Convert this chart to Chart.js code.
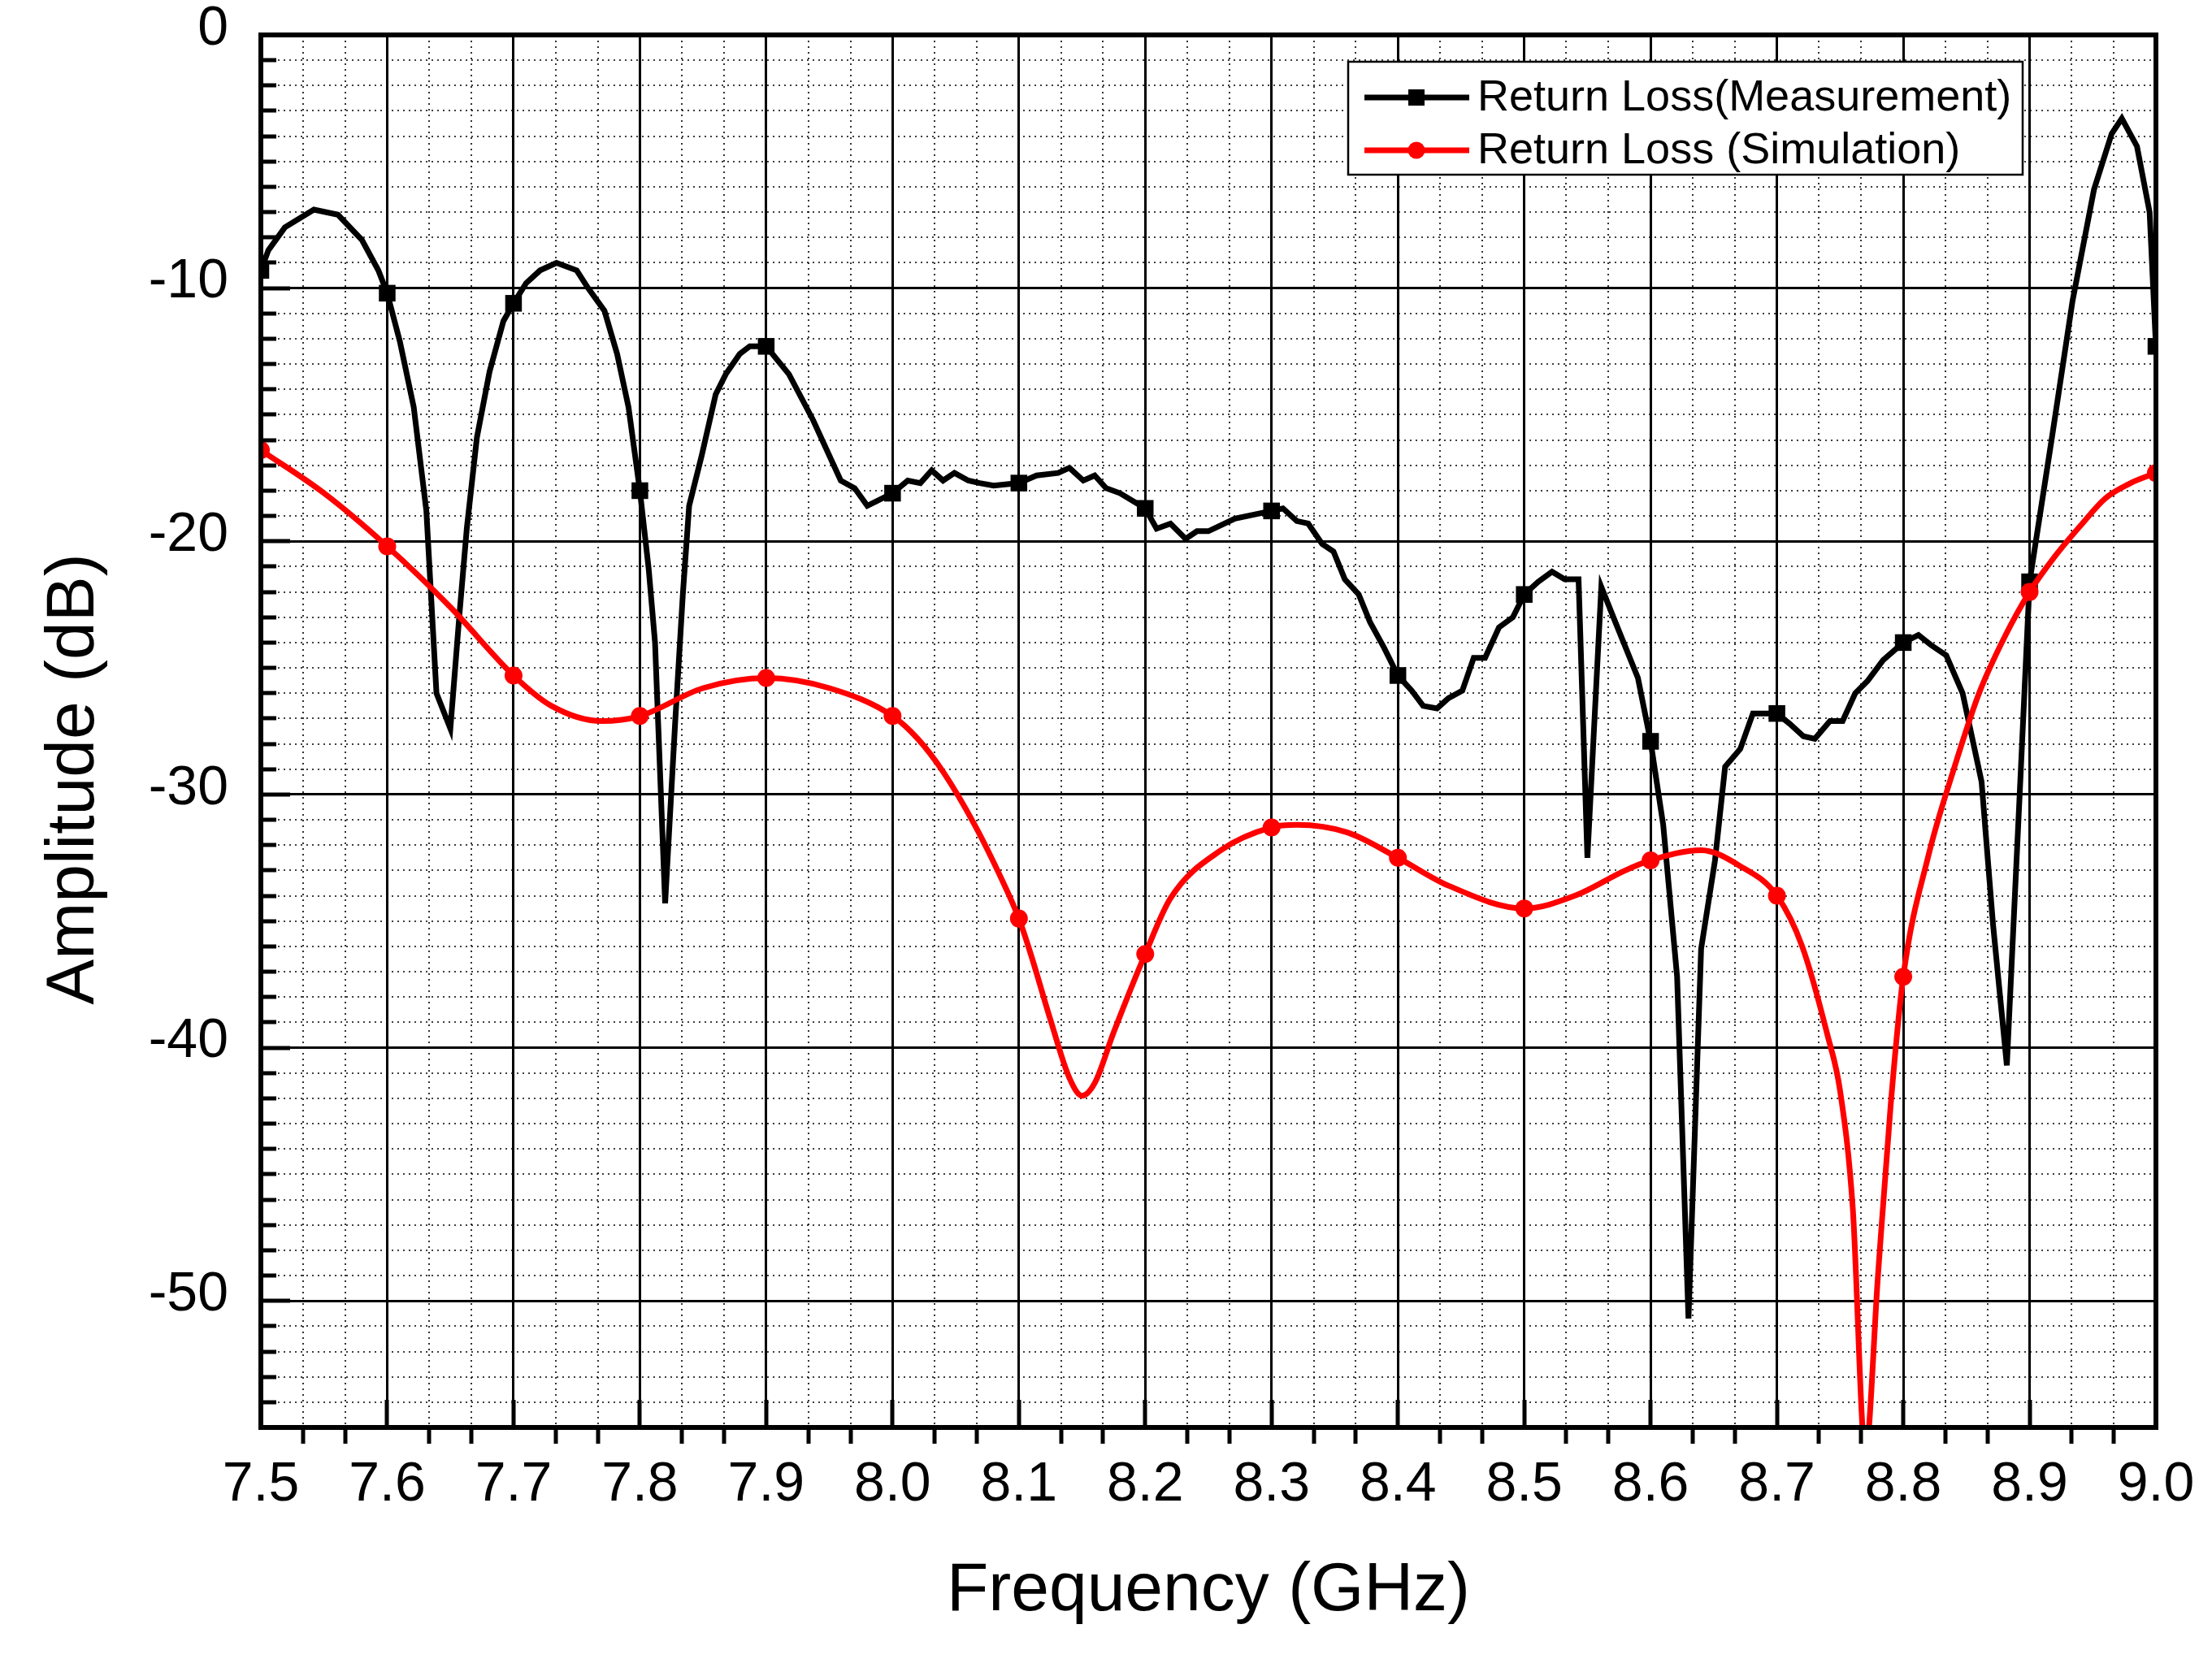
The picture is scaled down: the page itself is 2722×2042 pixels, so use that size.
<!DOCTYPE html>
<html>
<head>
<meta charset="utf-8">
<script src="https://cdn.jsdelivr.net/npm/chart.js@4.4.1/dist/chart.umd.min.js"></script>
<style>
  html, body { margin: 0; padding: 0; background: #fff; }
</style>
</head>
<body>
<canvas id="myChart" width="2722" height="2042"></canvas>
<script>
// measured return loss (black, squares)
const measFreq = [
    7.500, 7.506, 7.519, 7.542, 7.561, 7.580, 7.593, 7.600, 7.610, 7.621,
    7.631, 7.639, 7.650, 7.657, 7.663, 7.671, 7.681, 7.692, 7.700, 7.710,
    7.721, 7.734, 7.750, 7.759, 7.772, 7.782, 7.791, 7.800, 7.807, 7.812,
    7.820, 7.828, 7.834, 7.839, 7.849, 7.860, 7.868, 7.879, 7.887, 7.900,
    7.918, 7.937, 7.959, 7.970, 7.980, 8.000, 8.012, 8.022, 8.031, 8.040,
    8.049, 8.060, 8.069, 8.080, 8.100, 8.114, 8.131, 8.140, 8.151, 8.160,
    8.169, 8.180, 8.200, 8.209, 8.220, 8.232, 8.241, 8.250, 8.271, 8.300,
    8.309, 8.320, 8.329, 8.340, 8.349, 8.358, 8.369, 8.378, 8.389, 8.400,
    8.411, 8.420, 8.431, 8.440, 8.451, 8.460, 8.469, 8.480, 8.491, 8.500,
    8.511, 8.522, 8.532, 8.543, 8.550, 8.561, 8.573, 8.590, 8.600, 8.610,
    8.621, 8.630, 8.640, 8.651, 8.659, 8.671, 8.681, 8.700, 8.710, 8.721,
    8.730, 8.742, 8.752, 8.762, 8.772, 8.784, 8.800, 8.812, 8.822, 8.834,
    8.847, 8.862, 8.871, 8.882, 8.893, 8.900, 8.918, 8.934, 8.951, 8.965,
    8.973, 8.985, 8.995, 9.000
];
const measLoss = [
    -9.3, -8.5, -7.6, -6.9, -7.1, -8.1, -9.3, -10.2, -12.1, -14.7,
    -18.8, -26.0, -27.4, -23.0, -19.5, -15.9, -13.3, -11.3, -10.6, -9.8,
    -9.3, -9.0, -9.3, -10.0, -10.9, -12.6, -14.7, -18.0, -21.1, -24.0,
    -34.3, -27.1, -22.1, -18.6, -16.6, -14.2, -13.4, -12.6, -12.3, -12.3,
    -13.4, -15.2, -17.6, -17.9, -18.6, -18.1, -17.6, -17.7, -17.2, -17.6,
    -17.3, -17.6, -17.7, -17.8, -17.7, -17.4, -17.3, -17.1, -17.6, -17.4,
    -17.9, -18.1, -18.7, -19.5, -19.3, -19.9, -19.6, -19.6, -19.1, -18.8,
    -18.7, -19.2, -19.3, -20.1, -20.4, -21.5, -22.1, -23.2, -24.2, -25.3,
    -25.9, -26.5, -26.6, -26.2, -25.9, -24.6, -24.6, -23.4, -23.0, -22.1,
    -21.6, -21.2, -21.5, -21.5, -32.5, -21.8, -23.3, -25.4, -27.9, -31.2,
    -37.2, -50.7, -36.1, -32.6, -28.9, -28.2, -26.8, -26.8, -27.2, -27.7,
    -27.8, -27.1, -27.1, -26.0, -25.5, -24.7, -24.0, -23.7, -24.1, -24.5,
    -26.0, -29.5, -35.1, -40.7, -29.1, -21.6, -15.8, -10.5, -6.1, -3.9,
    -3.3, -4.4, -7.0, -12.3
];

// simulated return loss (red, circles)
const simFreq = [
    7.50, 7.55, 7.60, 7.65, 7.70, 7.73, 7.77, 7.80, 7.85, 7.90,
    7.95, 8.00, 8.02, 8.04, 8.065, 8.085, 8.10, 8.11, 8.125, 8.14,
    8.15, 8.16, 8.175, 8.20, 8.22, 8.26, 8.30, 8.32, 8.36, 8.40,
    8.44, 8.50, 8.54, 8.58, 8.60, 8.64, 8.67, 8.70, 8.72, 8.74,
    8.75, 8.76, 8.77, 8.78, 8.79, 8.80, 8.82, 8.84, 8.86, 8.88,
    8.90, 8.92, 8.94, 8.96, 8.98, 9.00
];
const simLoss = [
    -16.4, -18.1, -20.2, -22.6, -25.3, -26.5, -27.1, -26.9, -25.8, -25.4,
    -25.8, -26.9, -27.8, -29.1, -31.2, -33.2, -34.9, -36.4, -38.9, -41.2,
    -41.9, -41.4, -39.4, -36.3, -34.1, -32.2, -31.3, -31.2, -31.5, -32.5,
    -33.6, -34.5, -34.0, -33.0, -32.6, -32.2, -32.8, -34.0, -36.0, -39.5,
    -41.7, -46.3, -56.0, -49.0, -42.3, -37.2, -32.4, -29.0, -26.0, -23.8,
    -22.0, -20.6, -19.4, -18.3, -17.7, -17.3
];

const freqTicks = [7.5, 7.6, 7.7, 7.8, 7.9, 8.0, 8.1, 8.2, 8.3, 8.4, 8.5, 8.6, 8.7, 8.8, 8.9, 9.0];
const ampTicks = [0, -10, -20, -30, -40, -50];
const ampMin = -55;
const ampMax = 0;

const seriesNames = ['Return Loss(Measurement)', 'Return Loss (Simulation)'];
const seriesColors = ['#000000', '#ff0000'];

const FONT = "'Liberation Sans', Arial, sans-serif";
Chart.defaults.font.family = FONT;
Chart.defaults.color = '#000';

const isTenth = v => Math.abs(v * 10 - Math.round(v * 10)) < 1e-6;

const toPoints = (xs, ys) => xs.map((f, i) => ({x: f, y: ys[i]}));

// minor grid, tick marks, frame, legend and y title
const framePlugin = {
    id: 'framePlugin',
    beforeDatasetsDraw(chart) {
        const {ctx, chartArea: a, scales: {x, y}} = chart;
        ctx.save();
        ctx.strokeStyle = '#000';
        ctx.lineWidth = 1.6;
        ctx.setLineDash([2, 5]);
        ctx.beginPath();
        for (let i = 0; i < freqTicks.length - 1; i++) {
            for (let k = 1; k < 3; k++) {
                const px = Math.round(x.getPixelForValue(freqTicks[i] + (freqTicks[i + 1] - freqTicks[i]) * k / 3));
                ctx.moveTo(px, a.top);
                ctx.lineTo(px, a.bottom);
            }
        }
        for (let v = ampMin + 1; v < ampMax; v++) {
            if (v % 10 === 0) continue;
            const py = Math.round(y.getPixelForValue(v));
            ctx.moveTo(a.left, py);
            ctx.lineTo(a.right, py);
        }
        ctx.stroke();
        ctx.restore();
    },
    afterDatasetsDraw(chart) {
        const {ctx, chartArea: a, scales: {x, y}} = chart;
        ctx.save();
        ctx.strokeStyle = '#000';

        // y ticks, pointing in
        ctx.lineWidth = 5;
        ctx.beginPath();
        for (let v = ampMin + 1; v < ampMax; v++) {
            const py = Math.round(y.getPixelForValue(v));
            ctx.moveTo(a.left, py);
            ctx.lineTo(a.left + (v % 10 === 0 ? 36 : 19), py);
        }
        // x ticks: majors in, minors out
        for (let i = 0; i < freqTicks.length; i++) {
            const px = Math.round(x.getPixelForValue(freqTicks[i]));
            ctx.moveTo(px, a.bottom);
            ctx.lineTo(px, a.bottom - 34);
            if (i === freqTicks.length - 1) break;
            for (let k = 1; k < 3; k++) {
                const mx = Math.round(x.getPixelForValue(freqTicks[i] + (freqTicks[i + 1] - freqTicks[i]) * k / 3));
                ctx.moveTo(mx, a.bottom);
                ctx.lineTo(mx, a.bottom + 20);
            }
        }
        ctx.stroke();

        // frame
        ctx.lineWidth = 6;
        ctx.strokeRect(a.left, a.top, a.right - a.left, a.bottom - a.top);

        // legend
        const bx = a.right - 994, by = a.top + 33, bw = 830, bh = 139;
        ctx.fillStyle = '#fff';
        ctx.fillRect(bx, by, bw, bh);
        ctx.lineWidth = 2.5;
        ctx.strokeRect(bx, by, bw, bh);
        const rows = [by + 44, by + 109];
        ctx.font = '54px ' + FONT;
        ctx.textAlign = 'left';
        ctx.textBaseline = 'middle';
        for (let i = 0; i < seriesNames.length; i++) {
            const ry = rows[i];
            ctx.strokeStyle = seriesColors[i];
            ctx.fillStyle = seriesColors[i];
            ctx.lineWidth = 7;
            ctx.beginPath();
            ctx.moveTo(bx + 20, ry);
            ctx.lineTo(bx + 149, ry);
            ctx.stroke();
            if (i === 0) {
                ctx.fillRect(bx + 84 - 10, ry - 10, 20, 20);
            } else {
                ctx.beginPath();
                ctx.arc(bx + 84, ry, 10.5, 0, Math.PI * 2);
                ctx.fill();
            }
            ctx.fillStyle = '#000';
            ctx.fillText(seriesNames[i], bx + 159, ry + 1);
        }

        // y axis title
        ctx.translate(a.left - 229, a.top + 916);
        ctx.rotate(-Math.PI / 2);
        ctx.font = '84px ' + FONT;
        ctx.textAlign = 'center';
        ctx.textBaseline = 'middle';
        ctx.fillText('Amplitude (dB)', 0, 0);
        ctx.restore();
    }
};

const ctx = document.getElementById('myChart').getContext('2d');

const data = {
    datasets: [{
        label: seriesNames[0],
        data: toPoints(measFreq, measLoss),
        borderColor: seriesColors[0],
        backgroundColor: seriesColors[0],
        borderWidth: 7,
        tension: 0,
        pointStyle: 'rect',
        pointRadius: c => (c.raw && isTenth(c.raw.x)) ? 14.5 : 0,
        pointBorderWidth: 0,
        clip: 0,
        order: 2
    }, {
        label: seriesNames[1],
        data: toPoints(simFreq, simLoss),
        borderColor: seriesColors[1],
        backgroundColor: seriesColors[1],
        borderWidth: 7,
        cubicInterpolationMode: 'monotone',
        pointStyle: 'circle',
        pointRadius: c => (c.raw && isTenth(c.raw.x)) ? 11 : 0,
        pointBorderWidth: 0,
        clip: 0,
        order: 1
    }]
};

const config = {
    type: 'line',
    data: data,
    options: {
        responsive: false,
        animation: false,
        layout: {padding: {top: 43, right: 69, left: 0, bottom: 0}},
        plugins: {
            legend: {display: false},
            tooltip: {enabled: false}
        },
        scales: {
            x: {
                type: 'linear',
                min: 7.5,
                max: 9.0,
                afterBuildTicks: s => { s.ticks = freqTicks.map(v => ({value: v})); },
                afterFit: s => { s.height = 285; s.paddingLeft = 0; s.paddingRight = 0; },
                border: {display: false},
                grid: {color: '#000', lineWidth: 3, drawTicks: false},
                ticks: {
                    font: {size: 68},
                    padding: 30,
                    maxRotation: 0,
                    callback: v => v.toFixed(1)
                },
                title: {
                    display: true,
                    text: 'Frequency (GHz)',
                    font: {size: 84},
                    padding: {top: 0, bottom: 33}
                }
            },
            y: {
                min: ampMin,
                max: ampMax,
                afterBuildTicks: s => { s.ticks = ampTicks.map(v => ({value: v})); },
                afterFit: s => { s.width = 321; s.paddingTop = 0; s.paddingBottom = 0; },
                border: {display: false},
                grid: {color: '#000', lineWidth: 3, drawTicks: false},
                ticks: {
                    font: {size: 68},
                    padding: 40,
                    labelOffset: -7,
                    callback: v => String(v)
                }
            }
        }
    },
    plugins: [framePlugin]
};

const myChart = new Chart(ctx, config);
</script>
</body>
</html>
